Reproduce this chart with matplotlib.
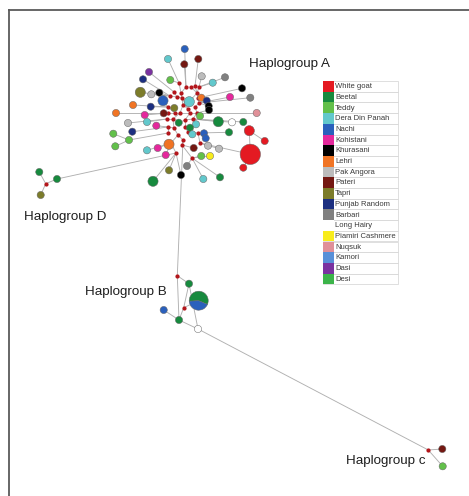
import numpy as np
import matplotlib
matplotlib.use("Agg")
import matplotlib.pyplot as plt
from matplotlib.patches import Wedge, Rectangle

plt.rcParams["font.family"] = ["Liberation Sans", "DejaVu Sans"]

# breeds shown in the legend, top to bottom
breeds = [
    "White goat", "Beetal", "Teddy", "Dera Din Panah", "Nachi", "Kohistani",
    "Khurasani", "Lehri", "Pak Angora", "Pateri", "Tapri", "Punjab Random",
    "Barbari", "Long Hairy", "Piamiri Cashmere", "Nuqsuk", "Kamori", "Dasi", "Desi",
]
breed_colors = [
    "#e41a22", "#178a3e", "#62c04a", "#62c8cc", "#2a60bc", "#e4289c",
    "#000000", "#f07424", "#bcbcbc", "#741812", "#7c7c2a", "#1c2f80",
    "#808080", "#ffffff", "#f8ec1c", "#e09098", "#5890d8", "#7a32a0", "#3cb44a",
]

# median vectors (unsampled haplotypes) of the central star
med_x = [179, 186, 191, 195, 199, 174, 181, 170, 177, 182, 197, 198, 168, 183, 188,
         195, 199, 168, 175, 180, 190, 197, 167, 173, 185, 193, 168, 174, 185, 188,
         168, 178, 183, 198, 171, 182, 200, 192, 176]
med_y = [83, 87, 87, 86, 87, 92, 93, 96, 97, 98, 93, 98, 107, 105, 109,
         107, 103, 113, 113, 113, 113, 113, 119, 119, 120, 119, 127, 128, 127, 132,
         133, 135, 140, 133, 143, 145, 143, 158, 153]

# sampled haplotypes: id, x, y, count, breed
hap_id = ["a%d" % i for i in range(1, 67)] + ["d1", "d2", "d3", "bg1", "bb", "bg2", "bw", "cr", "cg"]
hap_x = [184.7, 168, 184.3, 198.3, 149, 143, 170.3, 201.7, 225, 212.7,
         140.3, 151.3, 159.3, 163, 189.3, 201.3, 206.7, 208.7, 209, 242,
         230, 250.3, 133, 150.7, 174.3, 116, 144.7, 163.7, 200, 256.7,
         128, 147, 156.3, 178.7, 196, 218.3, 232, 243.3, 190, 132.3,
         113.3, 129, 115.3, 204, 205.7, 192.3, 229, 249.3, 264.7, 250.3,
         243.3, 147, 157.7, 165.7, 169, 193.7, 208, 219, 201.3, 210,
         169, 187, 181, 153, 203.3, 220,
         39.3, 57, 40.7, 189, 163.7, 179, 198, 442.3, 442.7]
hap_y = [49, 59, 64.3, 59, 72, 79.3, 80, 76.3, 77.3, 82.7,
         92.3, 94.3, 92.7, 100.7, 101.7, 97.7, 100.7, 106, 110, 88.3,
         97, 97.7, 105, 106.7, 108, 113, 115, 113.3, 116, 113,
         123, 122, 125.7, 122.7, 124.3, 121.7, 122.3, 122, 127.7, 131.7,
         133.7, 140, 146.3, 133.3, 138.3, 134.3, 132.3, 130.7, 141, 154.3,
         167.7, 150.3, 148, 155, 144.3, 148, 145.7, 148.7, 156, 156,
         170.3, 166, 175, 181.3, 179, 177.3,
         172, 179, 195, 283.7, 310, 320, 329, 449, 466.3]
hap_n = [1, 1, 1, 1, 1, 1, 1, 1, 1, 1,
         2, 1, 1, 2, 2, 1, 1, 1, 1, 1,
         1, 1, 1, 1, 1, 1, 1, 1, 1, 1,
         1, 1, 1, 1, 1, 2, 1, 1, 1, 1,
         1, 1, 1, 1, 1, 1, 1, 2, 1, 8,
         1, 1, 1, 1, 2, 1, 1, 1, 1, 1,
         1, 1, 1, 2, 1, 1,
         1, 1, 1, 1, 1, 1, 1, 1, 1]
hap_breed = [
    "Nachi", "Dera Din Panah", "Pateri", "Pateri", "Dasi", "Punjab Random", "Teddy",
    "Pak Angora", "Barbari", "Dera Din Panah",
    "Tapri", "Pak Angora", "Khurasani", "Nachi", "Dera Din Panah", "Lehri",
    "Punjab Random", "Khurasani", "Khurasani", "Khurasani",
    "Kohistani", "Barbari", "Lehri", "Punjab Random", "Tapri", "Lehri", "Kohistani",
    "Pateri", "Teddy", "Nuqsuk",
    "Pak Angora", "Dera Din Panah", "Kohistani", "Beetal", "Dera Din Panah", "Beetal",
    "Long Hairy", "Beetal", "Beetal", "Punjab Random",
    "Teddy", "Teddy", "Teddy", "Nachi", "Nachi", "Dera Din Panah", "Beetal",
    "White goat", "White goat", "White goat",
    "White goat", "Dera Din Panah", "Kohistani", "Kohistani", "Lehri", "Pateri",
    "Pak Angora", "Pak Angora", "Teddy", "Piamiri Cashmere",
    "Tapri", "Barbari", "Khurasani", "Beetal", "Dera Din Panah", "Beetal",
    "Beetal", "Beetal", "Tapri", "Beetal", "Nachi", "Beetal", "Long Hairy",
    "Pateri", "Teddy",
]

# outlying median vectors and the shared haplotype of haplogroup B
extra_med = {"dm": (45.7, 183.7), "bm1": (177.3, 275.7), "bm2": (183.7, 307.7), "cm": (428.3, 450)}
pie_xy = (198.7, 300.7)
pie_counts = [4, 3]
pie_breeds = ["Beetal", "Nachi"]

links = [
    ("m0", "m6"), ("m1", "m6"), ("m2", "m10"), ("m3", "m10"), ("m4", "m10"), ("m5", "m8"),
    ("m6", "m9"), ("m7", "m8"), ("m8", "m9"), ("m9", "m13"), ("m10", "m11"), ("m11", "m16"),
    ("m12", "m18"), ("m13", "m19"), ("m14", "m20"), ("m15", "m21"), ("m16", "m15"),
    ("m17", "m18"), ("m18", "m19"), ("m20", "m19"), ("m21", "m20"), ("m22", "m23"),
    ("m23", "m19"), ("m24", "m20"), ("m25", "m21"), ("m26", "m27"), ("m27", "m23"),
    ("m28", "m24"), ("m29", "m28"), ("m30", "m26"), ("m31", "m27"), ("m32", "m31"),
    ("m33", "m29"), ("m34", "m31"), ("m35", "m32"), ("m36", "m33"), ("m37", "m35"),
    ("m38", "m34"), ("m13", "m14"), ("m24", "m25"), ("m6", "m13"), ("m9", "m14"),
    ("a1", "m1"), ("a2", "m0"), ("a3", "m1"), ("a4", "m3"), ("a5", "m5"), ("a6", "m7"),
    ("a7", "m0"), ("a8", "m4"), ("a9", "m4"), ("a10", "m4"), ("a11", "m7"), ("a12", "m7"),
    ("a13", "m7"), ("a14", "m12"), ("a15", "m13"), ("a15", "m10"), ("a16", "m11"),
    ("a17", "m16"), ("a18", "m16"), ("a19", "m21"), ("a20", "m11"), ("a21", "m16"),
    ("a22", "m16"), ("a23", "m12"), ("a24", "m12"), ("a25", "m18"), ("a26", "m17"),
    ("a27", "m17"), ("a28", "m17"), ("a29", "m21"), ("a30", "m21"), ("a31", "m22"),
    ("a32", "m22"), ("a33", "m26"), ("a34", "m24"), ("a35", "m25"), ("a36", "m25"),
    ("a37", "m25"), ("a38", "m25"), ("a39", "m28"), ("a40", "m26"), ("a41", "a42"),
    ("a42", "m30"), ("a43", "a42"), ("a44", "m33"), ("a45", "m33"), ("a46", "m29"),
    ("a47", "m33"), ("a48", "a50"), ("a49", "a48"), ("a50", "m36"), ("a51", "a50"),
    ("a52", "m34"), ("a53", "m34"), ("a54", "m34"), ("a55", "m34"), ("a56", "m35"),
    ("a57", "m36"), ("a58", "m36"), ("a59", "m37"), ("a60", "m37"), ("a61", "m38"),
    ("a62", "m37"), ("a63", "m38"), ("a64", "m38"), ("a65", "m37"), ("a66", "m37"),
    ("d1", "dm"), ("d2", "dm"), ("d3", "dm"), ("d2", "m38"),
    ("m32", "bm1"), ("bm1", "bg1"), ("bm1", "bg2"), ("bg1", "bm2"), ("bm2", "pie"),
    ("bm2", "bg2"), ("bg1", "bw"), ("bb", "bg2"), ("bg2", "bw"),
    ("bw", "cm"), ("cm", "cr"), ("cm", "cg"),
]

group_labels = ["Haplogroup A", "Haplogroup D", "Haplogroup B", "Haplogroup c"]
group_label_xy = [(249, 64), (24, 217), (85, 292), (346, 461)]

# ---------------------------------------------------------------
color_of = dict(zip(breeds, breed_colors))
pos = {"m%d" % i: (x, y) for i, (x, y) in enumerate(zip(med_x, med_y))}
pos.update(extra_med)
pos.update({h: (x, y) for h, x, y in zip(hap_id, hap_x, hap_y)})
pos["pie"] = pie_xy

W, H = 469, 496
fig = plt.figure(figsize=(W / 100, H / 100), dpi=100)
ax = fig.add_axes([9 / W, 0, (W - 9) / W, (H - 10) / H])
ax.set_xlim(9, W)
ax.set_ylim(H, 10)
ax.set_xticks([])
ax.set_yticks([])
for side in ["right", "bottom"]:
    ax.spines[side].set_visible(False)
for side in ["left", "top"]:
    ax.spines[side].set_color("#5a5a5a")
    ax.spines[side].set_linewidth(1.3)


def px_to_s(r):
    # radius in pixels -> scatter marker area in points^2
    return (2 * r * 0.72) ** 2


for a, b in links:
    (x0, y0), (x1, y1) = pos[a], pos[b]
    ax.plot([x0, x1], [y0, y1], color="#b0b0b0", lw=0.65, zorder=1)

# median vectors
mx = med_x + [v[0] for v in extra_med.values()]
my = med_y + [v[1] for v in extra_med.values()]
ax.scatter(mx, my, s=px_to_s(2.1), color="#b3161b", linewidths=0, zorder=3)

# sampled haplotypes, area proportional to frequency
radii = 3.6 * np.sqrt(np.array(hap_n))
ax.scatter(hap_x, hap_y, s=px_to_s(radii), c=[color_of[b] for b in hap_breed],
           edgecolors="#666666", linewidths=0.35, zorder=4)

# mixed haplotype drawn as a pie
r_pie = 3.6 * np.sqrt(sum(pie_counts))
frac = pie_counts[0] / sum(pie_counts)
start = 270 - 180 * frac + 10
ax.add_patch(Wedge(pie_xy, r_pie, start, start + 360 * frac,
                   facecolor=color_of[pie_breeds[0]], edgecolor="#666666", lw=0.35, zorder=4))
ax.add_patch(Wedge(pie_xy, r_pie, start + 360 * frac, start + 360,
                   facecolor=color_of[pie_breeds[1]], edgecolor="#666666", lw=0.35, zorder=4))

for label, (x, y) in zip(group_labels, group_label_xy):
    ax.text(x, y, label, fontsize=9.6, color="#1e1e1e", ha="left", va="center")

# legend table
row_h = 10.7
top = 81
for i, (name, col) in enumerate(zip(breeds, breed_colors)):
    y = top + i * row_h
    ax.add_patch(Rectangle((323, y), 75, row_h, facecolor="white",
                           edgecolor="#d2d2d2", lw=0.5, zorder=5))
    ax.add_patch(Rectangle((323, y), 10.5, row_h, facecolor=col,
                           edgecolor="none", zorder=6))
    ax.text(335, y + row_h / 2 + 0.3, name, fontsize=5.5, color="#3a3a3a",
            ha="left", va="center", zorder=7)

fig.savefig("out.png", dpi=100, facecolor="white")
